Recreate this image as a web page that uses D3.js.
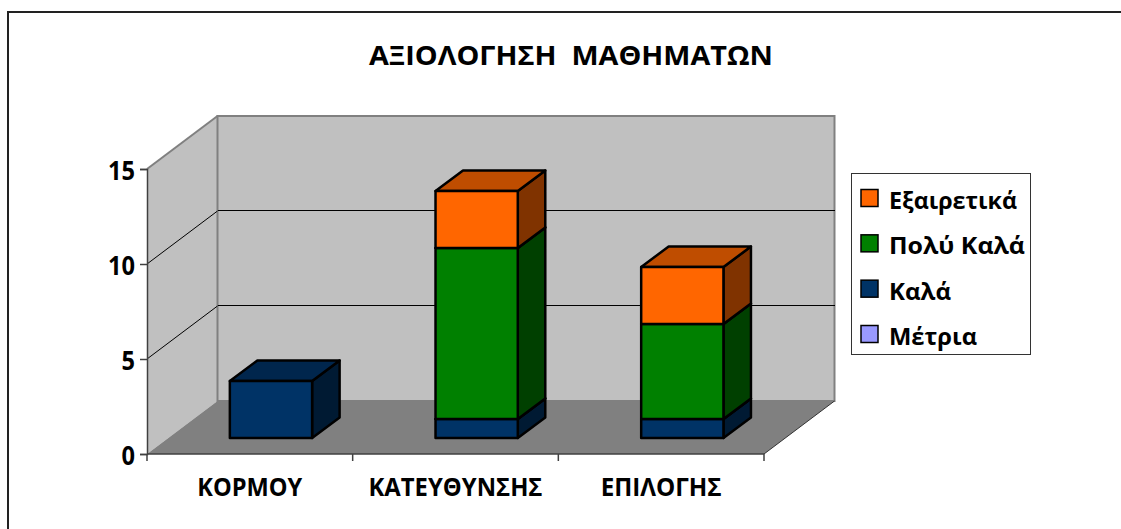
<!DOCTYPE html>
<html>
<head>
<meta charset="utf-8">
<script src="https://cdn.jsdelivr.net/npm/d3@7"></script>
<style>
html, body { margin: 0; padding: 0; background: #fff; }
svg { display: block; }
text { font-family: "Open Sans", sans-serif; font-weight: 700; fill: #000; white-space: pre; }
</style>
</head>
<body>
<div id="chart"></div>
<script>
const titleText = "ΑΞΙΟΛΟΓΗΣΗ  ΜΑΘΗΜΑΤΩΝ";
const categories = ["ΚΟΡΜΟΥ", "ΚΑΤΕΥΘΥΝΣΗΣ", "ΕΠΙΛΟΓΗΣ"];
const seriesNames = ["Μέτρια", "Καλά", "Πολύ Καλά", "Εξαιρετικά"];
const metria = [0, 0, 0];
const kala = [3, 1, 1];
const polyKala = [0, 9, 5];
const exairetika = [0, 3, 3];
const yTicks = [0, 5, 10, 15];

const colors = {"Μέτρια": "#9999ff", "Καλά": "#003366", "Πολύ Καλά": "#008000", "Εξαιρετικά": "#ff6600"};

const width = 1121, height = 529;
const plotLeft = 147, plotRight = 764, plotBottom = 454, plotTop = 169;
// offset of the back wall from the front of the box
const depthX = 70.5, depthY = 53;
// where the bars sit inside the depth of the box (0 front, 1 back)
const barFront = 0.3, barBack = 0.69;

const rows = categories.map((c, i) => ({
    category: c,
    "Μέτρια": metria[i],
    "Καλά": kala[i],
    "Πολύ Καλά": polyKala[i],
    "Εξαιρετικά": exairetika[i]
}));
const stacked = d3.stack().keys(seriesNames)(rows);

const x = d3.scaleBand().domain(categories).range([plotLeft, plotRight]).paddingInner(0.6).paddingOuter(0.3);
const y = d3.scaleLinear().domain([0, 15]).range([plotBottom, plotTop]);

// front position -> position at depth z
const px = (vx, z) => vx + depthX * z;
const py = (vy, z) => vy - depthY * z;
const poly = pts => pts.map(p => p.join(",")).join(" ");

let svg = d3.select("#chart").append("svg")
    .attr("width", width)
    .attr("height", height);

// outer frame, only top and left show
svg.append("path")
    .attr("d", d3.line()([[8, height], [8, 12], [width, 12]]))
    .attr("fill", "none")
    .attr("stroke", "#222")
    .attr("stroke-width", 2);

svg.append("text")
    .attr("x", 369)
    .attr("y", 65)
    .attr("font-size", 27)
    .attr("textLength", 404)
    .attr("lengthAdjust", "spacingAndGlyphs")
    .text(titleText);

// walls and floor
const y0 = y(0), y15 = y(15);
svg.append("polygon")
    .attr("points", poly([[plotLeft, y0], [plotLeft, y15], [px(plotLeft, 1), py(y15, 1)], [px(plotLeft, 1), py(y0, 1)]]))
    .attr("fill", "#c0c0c0");
svg.append("polygon")
    .attr("points", poly([[px(plotLeft, 1), py(y15, 1)], [px(plotRight, 1), py(y15, 1)], [px(plotRight, 1), py(y0, 1)], [px(plotLeft, 1), py(y0, 1)]]))
    .attr("fill", "#c0c0c0")
    .attr("stroke", "#808080")
    .attr("stroke-width", 2);
svg.append("line")
    .attr("x1", plotLeft).attr("y1", y15)
    .attr("x2", px(plotLeft, 1)).attr("y2", py(y15, 1))
    .attr("stroke", "#808080")
    .attr("stroke-width", 2);
svg.append("polygon")
    .attr("points", poly([[plotLeft, y0], [plotRight, y0], [px(plotRight, 1), py(y0, 1)], [px(plotLeft, 1), py(y0, 1)]]))
    .attr("fill", "#808080");
svg.append("line")
    .attr("x1", plotRight).attr("y1", y0)
    .attr("x2", px(plotRight, 1)).attr("y2", py(y0, 1))
    .attr("stroke", "#333");

// gridlines, diagonal on the side wall and straight on the back wall
const gridTicks = yTicks.filter(t => t > 0 && t < 15);
svg.selectAll(".gridSide")
    .data(gridTicks)
    .join("line")
    .attr("class", "gridSide")
    .attr("stroke", "#000")
    .attr("x1", plotLeft)
    .attr("y1", t => y(t))
    .attr("x2", px(plotLeft, 1))
    .attr("y2", t => py(y(t), 1));
svg.selectAll(".gridBack")
    .data(gridTicks)
    .join("line")
    .attr("class", "gridBack")
    .attr("stroke", "#000")
    .attr("shape-rendering", "crispEdges")
    .attr("x1", px(plotLeft, 1))
    .attr("y1", t => py(y(t), 1) - 0.5)
    .attr("x2", px(plotRight, 1))
    .attr("y2", t => py(y(t), 1) - 0.5);

// bars
stacked.forEach(layer => {
    const c = d3.color(colors[layer.key]);
    layer.forEach((d, i) => {
        if (d[1] - d[0] <= 0) return;
        const x0 = px(x(categories[i]), barFront);
        const x1 = x0 + x.bandwidth();
        const yb = py(y(d[0]), barFront);
        const yt = py(y(d[1]), barFront);
        const dx = depthX * (barBack - barFront);
        const dy = depthY * (barBack - barFront);
        const g = svg.append("g")
            .attr("stroke", "#000")
            .attr("stroke-width", 2.5)
            .attr("stroke-linejoin", "round");
        g.append("polygon")
            .attr("points", poly([[x1, yb], [x1 + dx, yb - dy], [x1 + dx, yt - dy], [x1, yt]]))
            .attr("fill", d3.rgb(c.r * 0.5, c.g * 0.5, c.b * 0.5));
        g.append("polygon")
            .attr("points", poly([[x0, yt], [x0 + dx, yt - dy], [x1 + dx, yt - dy], [x1, yt]]))
            .attr("fill", d3.rgb(c.r * 0.75, c.g * 0.75, c.b * 0.75));
        g.append("rect")
            .attr("x", x0)
            .attr("y", yt)
            .attr("width", x1 - x0)
            .attr("height", yb - yt)
            .attr("fill", c);
    });
});

// axes
let yAxis = svg.append("g")
    .attr("transform", "translate(" + plotLeft + ",0)")
    .call(d3.axisLeft(y).tickValues(yTicks).tickFormat(d3.format("d")).tickSize(7).tickPadding(5));
yAxis.selectAll("text")
    .attr("font-size", 26)
    .attr("dy", "0.42em")
    .attr("textLength", d => String(d).length * 13.5)
    .attr("lengthAdjust", "spacingAndGlyphs");
yAxis.selectAll("line,path").attr("stroke", "#404040").attr("stroke-width", 1.5);

let xAxis = svg.append("g")
    .attr("transform", "translate(0," + plotBottom + ")")
    .call(d3.axisBottom(x).tickSize(0).tickPadding(24));
xAxis.selectAll("text").attr("font-size", 25)
    .attr("textLength", (d, i) => [105, 174, 121][i])
    .attr("lengthAdjust", "spacingAndGlyphs");
xAxis.select("path").remove();
xAxis.selectAll(".edge")
    .data([0, 1, 2, 3])
    .join("line")
    .attr("class", "edge")
    .attr("x1", i => plotLeft + i * x.step())
    .attr("x2", i => plotLeft + i * x.step())
    .attr("y1", 0)
    .attr("y2", 7)
    .attr("stroke", "#404040")
    .attr("stroke-width", 1.5);
xAxis.append("line")
    .attr("x1", plotLeft).attr("x2", plotRight)
    .attr("stroke", "#404040")
    .attr("stroke-width", 1.5);

// legend
const legendNames = seriesNames.slice().reverse();
const legendWidths = [128, 136, 62, 88];
const legendY = d3.scalePoint().domain(legendNames).range([198, 334]);
svg.append("rect")
    .attr("x", 851.5).attr("y", 173.5)
    .attr("width", 179).attr("height", 181)
    .attr("fill", "#fff")
    .attr("stroke", "#333")
    .attr("stroke-width", 1);
let legendItem = svg.selectAll(".legend")
    .data(legendNames)
    .join("g")
    .attr("class", "legend")
    .attr("transform", d => "translate(0," + legendY(d) + ")");
legendItem.append("rect")
    .attr("x", 861).attr("y", -8.5)
    .attr("width", 17).attr("height", 17)
    .attr("fill", d => colors[d])
    .attr("stroke", "#000")
    .attr("stroke-width", 1.5);
legendItem.append("text")
    .attr("x", 889)
    .attr("y", 11)
    .attr("font-size", 24)
    .attr("textLength", (d, i) => legendWidths[i])
    .attr("lengthAdjust", "spacingAndGlyphs")
    .text(d => d);
</script>
</body>
</html>
